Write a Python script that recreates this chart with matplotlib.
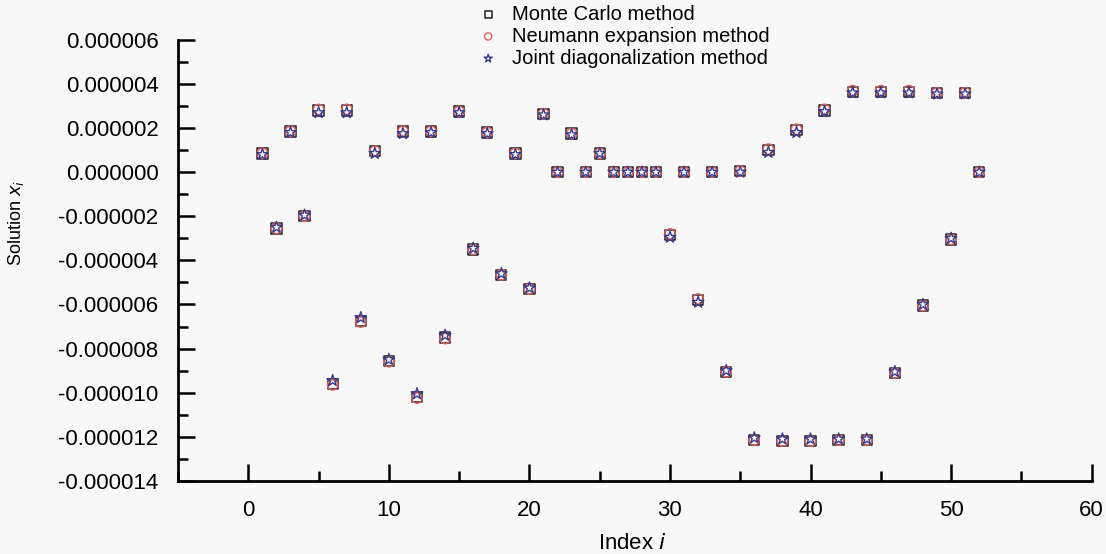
import numpy as np
import matplotlib
matplotlib.use("Agg")
import matplotlib.pyplot as plt
from matplotlib.ticker import MultipleLocator, FuncFormatter

plt.rcParams['font.family'] = ['Liberation Sans', 'DejaVu Sans']

# data (values in units of 1e-6)
index = list(range(1, 53))
monte_carlo = [0.85, -2.55, 1.85, -2.0, 2.8, -9.6, 2.8, -6.75, 0.95, -8.55,
               1.85, -10.2, 1.85, -7.5, 2.75, -3.5, 1.8, -4.65, 0.85, -5.3,
               2.65, 0.0, 1.75, 0.0, 0.85, 0.0, 0.0, 0.0, 0.0, -2.85,
               0.0, -5.8, 0.0, -9.05, 0.05, -12.15, 1.0, -12.2, 1.9, -12.2,
               2.8, -12.15, 3.65, -12.15, 3.65, -9.1, 3.65, -6.05, 3.6, -3.05,
               3.6, 0.0]
neumann = [0.85, -2.55, 1.85, -2.0, 2.85, -9.65, 2.85, -6.8, 0.95, -8.6,
           1.85, -10.25, 1.85, -7.55, 2.75, -3.5, 1.8, -4.65, 0.85, -5.3,
           2.65, 0.0, 1.75, 0.0, 0.85, 0.0, 0.0, 0.0, 0.0, -2.8,
           0.0, -5.75, 0.0, -9.05, 0.05, -12.15, 1.05, -12.2, 1.95, -12.2,
           2.85, -12.15, 3.7, -12.15, 3.7, -9.1, 3.7, -6.05, 3.6, -3.05,
           3.6, 0.0]
joint = [0.8, -2.5, 1.8, -1.95, 2.7, -9.45, 2.7, -6.6, 0.85, -8.5,
         1.75, -10.05, 1.8, -7.4, 2.7, -3.45, 1.75, -4.6, 0.8, -5.25,
         2.6, 0.0, 1.7, 0.0, 0.85, 0.0, 0.0, 0.0, 0.0, -2.95,
         0.0, -5.9, 0.0, -9.0, 0.0, -12.05, 0.9, -12.1, 1.8, -12.1,
         2.75, -12.1, 3.6, -12.1, 3.6, -9.05, 3.6, -6.0, 3.55, -3.0,
         3.55, 0.0]

scale = 1e-6
x = np.array(index)

fig = plt.figure(figsize=(11.06, 5.54), dpi=100, facecolor='#f8f8f8')
ax = fig.add_axes([0.161, 0.132, 0.826, 0.796])
ax.set_facecolor('#f8f8f8')

ax.scatter(x, np.array(monte_carlo) * scale, marker='s', s=55, facecolors='none',
           edgecolors='#222222', linewidths=1.1, label='Monte Carlo method', zorder=3)
ax.scatter(x, np.array(neumann) * scale, marker='o', s=55, facecolors='none',
           edgecolors='#e06060', linewidths=1.0, label='Neumann expansion method', zorder=3)
ax.scatter(x, np.array(joint) * scale, marker='*', s=75, facecolors='none',
           edgecolors='#3a3a8a', linewidths=1.0, label='Joint diagonalization method', zorder=4)

ax.set_xlim(-5, 60)
ax.set_ylim(-14e-6, 6e-6)
ax.xaxis.set_major_locator(MultipleLocator(10))
ax.xaxis.set_minor_locator(MultipleLocator(5))
ax.yaxis.set_major_locator(MultipleLocator(2e-6))
ax.yaxis.set_minor_locator(MultipleLocator(1e-6))
ax.yaxis.set_major_formatter(FuncFormatter(lambda v, p: f"{v:.6f}" if abs(v) > 1e-9 else "0.000000"))

for side in ['top', 'right']:
    ax.spines[side].set_visible(False)
for side in ['left', 'bottom']:
    ax.spines[side].set_linewidth(2)

ax.tick_params(which='major', direction='in', length=12, width=1.8, labelsize=16)
ax.tick_params(which='minor', direction='in', length=7, width=1.8)
ax.tick_params(axis='y', which='major', pad=14)
ax.tick_params(axis='x', which='major', pad=14)

ax.set_xlabel('Index $i$', fontsize=16)
ax.set_ylabel('Solution $x_i$', fontsize=13)
ax.xaxis.set_label_coords(0.497, -0.118)
ax.yaxis.set_label_coords(-0.166, 0.585)

fig.legend(loc='upper left', bbox_to_anchor=(0.425, 1.006), frameon=False,
           fontsize=14.5, markerscale=0.7, handlelength=1.0, handletextpad=0.7,
           labelspacing=0.15, borderaxespad=0)

fig.savefig('out.png', dpi=100, facecolor=fig.get_facecolor())
